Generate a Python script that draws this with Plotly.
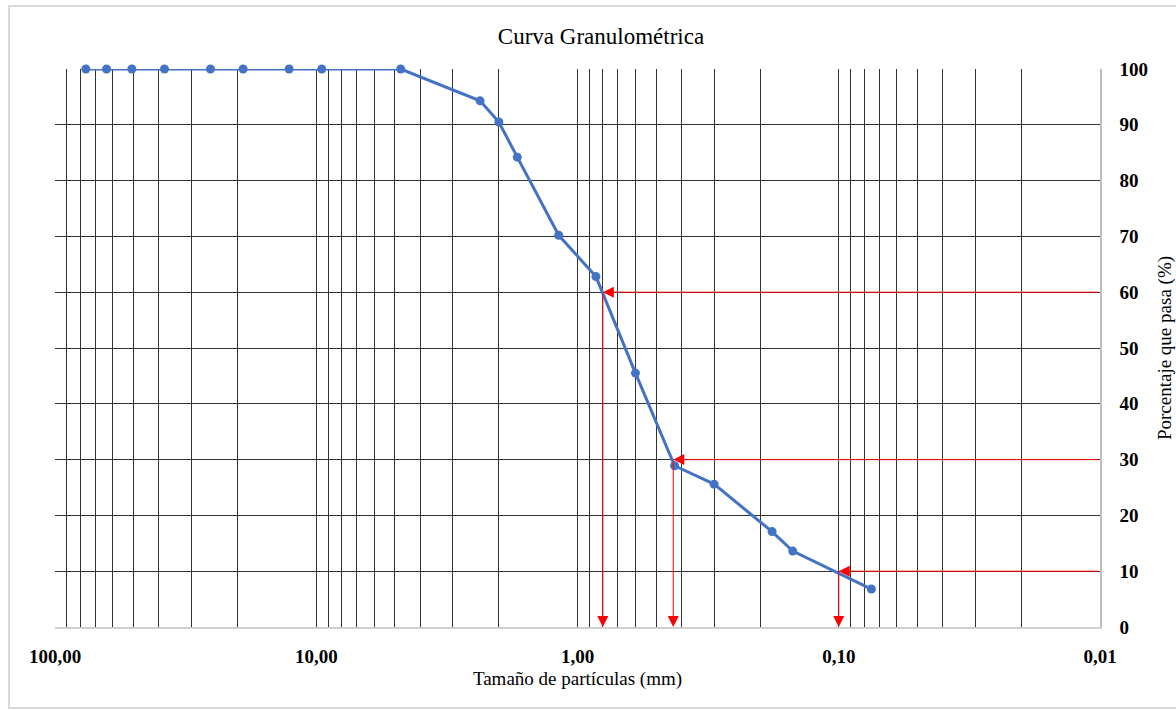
import math
import plotly.graph_objects as go

# ---- data ----
sizes_mm = [76.2, 63.5, 50.8, 38.1, 25.4, 19.05, 12.7, 9.525, 4.75, 2.36, 2.00, 1.70,
            1.18, 0.85, 0.60, 0.425, 0.30, 0.18, 0.15, 0.075]
passing_pct = [100, 100, 100, 100, 100, 100, 100, 100, 100, 94.3, 90.5, 84.2,
               70.2, 62.8, 45.5, 28.9, 25.6, 17.1, 13.6, 6.8]

d_pct = [60, 30, 10]
d_sizes = [0.80, 0.43, 0.10]

x_tickvals = [100, 10, 1, 0.1, 0.01]
x_ticktext = ["100,00", "10,00", "1,00", "0,10", "0,01"]
y_tickvals = [0, 10, 20, 30, 40, 50, 60, 70, 80, 90, 100]

minor_vals = [k * 10 ** e for e in range(-2, 2) for k in range(2, 10)]

FONT = "Liberation Serif, Times New Roman, serif"
GRID = "#333333"

fig = go.Figure()
fig.add_trace(go.Scatter(
    x=sizes_mm, y=passing_pct, mode="lines+markers",
    line=dict(color="#4472C4", width=3),
    marker=dict(color="#4472C4", size=9),
    cliponaxis=False,
    showlegend=False,
))

annotations = []
for p, d in zip(d_pct, d_sizes):
    annotations.append(dict(
        x=math.log10(d), y=p, ax=math.log10(0.01), ay=p,
        xref="x", yref="y", axref="x", ayref="y",
        text="", showarrow=True, arrowhead=2, arrowsize=2.2, arrowwidth=1,
        arrowcolor="red", standoff=0, startstandoff=0,
    ))
    annotations.append(dict(
        x=math.log10(d), y=0, ax=math.log10(d), ay=p,
        xref="x", yref="y", axref="x", ayref="y",
        text="", showarrow=True, arrowhead=2, arrowsize=2.2, arrowwidth=1,
        arrowcolor="red", standoff=0, startstandoff=0,
    ))

W, H = 1176, 710
L, R, T, B = 55, 76, 69, 83
pw, ph = W - L - R, H - T - B

shapes = [dict(
    type="rect", xref="paper", yref="paper",
    x0=(9 - L) / pw, x1=(1185 - L) / pw,
    y0=(H - B - 708) / ph, y1=(H - B - 6) / ph,
    line=dict(color="#d9d9d9", width=2), fillcolor="rgba(0,0,0,0)", layer="below",
)]

fig.update_layout(
    width=W, height=H,
    margin=dict(l=L, r=R, t=T, b=B, autoexpand=False),
    paper_bgcolor="white", plot_bgcolor="white",
    font=dict(family=FONT, color="#000000", size=19),
    title=dict(text="Curva Granulométrica", x=601 / W, xref="container", xanchor="center",
               y=1 - 36 / H, yref="container", yanchor="middle",
               font=dict(family=FONT, size=23, color="#000000")),
    xaxis=dict(
        type="log", range=[2, -2], automargin=False,
        tickmode="array", tickvals=x_tickvals, ticktext=x_ticktext,
        tickfont=dict(family=FONT, size=19, weight="bold"),
        showgrid=True, gridcolor=GRID, gridwidth=1,
        minor=dict(tickmode="array", tickvals=minor_vals, showgrid=True,
                   gridcolor=GRID, gridwidth=1, ticks=""),
        ticks="", ticklabelstandoff=11,
        showline=True, linecolor="#d0d0d0", linewidth=1.5,
        zeroline=False,
        title=dict(text="Tamaño de partículas (mm)", font=dict(family=FONT, size=19), standoff=6),
    ),
    yaxis=dict(
        side="right", range=[0, 100], automargin=False,
        tickmode="array", tickvals=y_tickvals,
        tickfont=dict(family=FONT, size=19, weight="bold"),
        showgrid=True, gridcolor=GRID, gridwidth=1,
        zeroline=False, ticks="", ticklabelstandoff=14,
        showline=True, linecolor="#bdbdbd", linewidth=1.5,
        title=dict(text="Porcentaje que pasa (%)", font=dict(family=FONT, size=19), standoff=12),
    ),
    annotations=annotations,
    shapes=shapes,
)

fig.write_html("out.html")
